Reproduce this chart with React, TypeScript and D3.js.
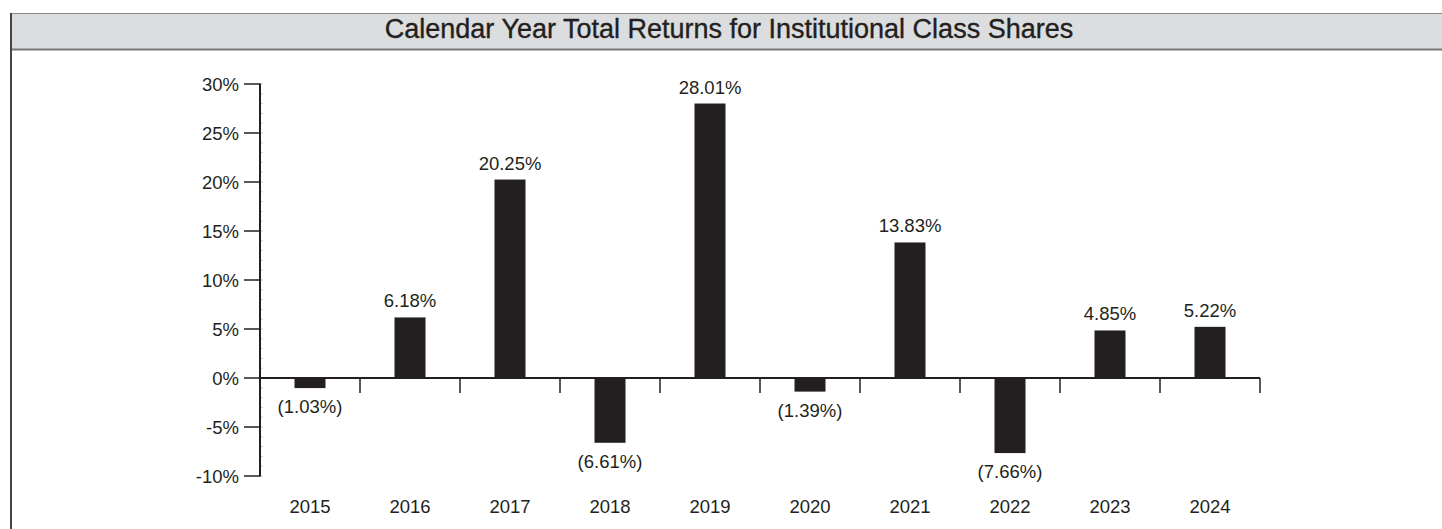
import React from "react";
import * as d3 from "d3";

const years = ["2015", "2016", "2017", "2018", "2019", "2020", "2021", "2022", "2023", "2024"];
const returns = [-1.03, 6.18, 20.25, -6.61, 28.01, -1.39, 13.83, -7.66, 4.85, 5.22];
const yTicks = [-10, -5, 0, 5, 10, 15, 20, 25, 30];
const title = "Calendar Year Total Returns for Institutional Class Shares";

const W = 1442;
const H = 529;
const FONT = "'Liberation Sans', Arial, Helvetica, sans-serif";
const INK = "#231f20";

function fmt(v: number): string {
  const s = Math.abs(v).toFixed(2) + "%";
  return v < 0 ? `(${s})` : s;
}

export default function App() {
  const x = d3.scaleBand<string>().domain(years).range([260, 1260]).paddingInner(0).paddingOuter(0);
  const y = d3.scaleLinear().domain([-10, 30]).range([476, 84]);
  const barW = 31;
  const y0 = y(0);
  const minorTicks = d3.range(-10, 31, 1);
  const bounds = [...years.map((yr) => x(yr)! + x.bandwidth())];

  return (
    <svg
      width={W}
      height={H}
      style={{ position: "absolute", left: 0, top: 0, background: "#fff" }}
      fontFamily={FONT}
    >
      {/* header */}
      <rect x={10} y={13} width={W} height={37} fill="#dcdddf" />
      <line x1={10} x2={W} y1={13.5} y2={13.5} stroke="#8a8a8a" strokeWidth={1.2} />
      <line x1={10} x2={W} y1={49.5} y2={49.5} stroke="#777" strokeWidth={2} />
      <line x1={11} x2={11} y1={13} y2={H} stroke="#444" strokeWidth={2} />
      <text x={729} y={37.5} textAnchor="middle" fontSize={27} fill={INK} stroke={INK} strokeWidth={0.35}>
        {title}
      </text>

      {/* minor ticks on y axis */}
      {minorTicks.map((t) => (
        <line key={"m" + t} x1={260} x2={263} y1={y(t)} y2={y(t)} stroke="#bbb" strokeWidth={0.8} />
      ))}

      {/* bars */}
      {years.map((yr, i) => {
        const v = returns[i];
        const cx = x(yr)! + x.bandwidth() / 2;
        const top = Math.min(y(v), y0);
        const h = Math.abs(y(v) - y0);
        return <rect key={yr} x={cx - barW / 2} y={top} width={barW} height={h} fill={INK} />;
      })}

      {/* y axis */}
      <line x1={260} x2={260} y1={y(30) - 0.5} y2={y(-10) + 0.5} stroke={INK} strokeWidth={2} />
      {yTicks.map((t) => (
        <g key={t}>
          <line x1={244} x2={260} y1={y(t)} y2={y(t)} stroke={INK} strokeWidth={1.5} />
          <text x={239} y={y(t) + 6.5} textAnchor="end" fontSize={18.5} fill={INK}>
            {t}%
          </text>
        </g>
      ))}

      {/* x axis */}
      <line x1={259} x2={1260} y1={y0} y2={y0} stroke={INK} strokeWidth={2} />
      {bounds.map((b, i) => (
        <line key={"b" + i} x1={b} x2={b} y1={y0} y2={393} stroke={INK} strokeWidth={1.5} />
      ))}

      {/* value labels */}
      {years.map((yr, i) => {
        const v = returns[i];
        const cx = x(yr)! + x.bandwidth() / 2;
        const ly = v >= 0 ? y(v) - 10 : y(v) + 25;
        return (
          <text key={"v" + yr} x={cx} y={ly} textAnchor="middle" fontSize={18.5} fill={INK}>
            {fmt(v)}
          </text>
        );
      })}

      {/* year labels */}
      {years.map((yr) => (
        <text key={"y" + yr} x={x(yr)! + x.bandwidth() / 2} y={512.5} textAnchor="middle" fontSize={18.5} fill={INK}>
          {yr}
        </text>
      ))}
    </svg>
  );
}
